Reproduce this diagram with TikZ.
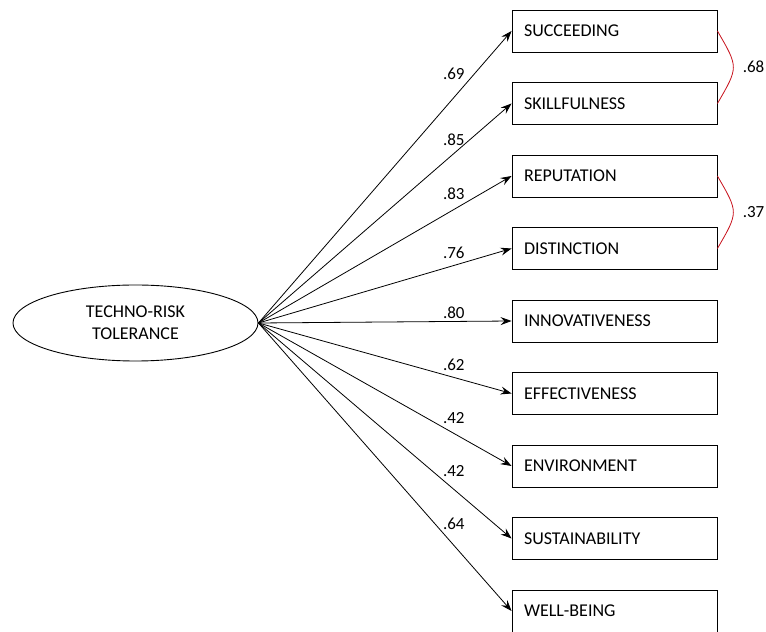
\documentclass[tikz,border=0pt]{standalone}
\usepackage{fontspec}
\setmainfont{Carlito}
\usetikzlibrary{arrows.meta,shapes.geometric}
\begin{document}
\begin{tikzpicture}[x=1pt,y=1pt,
  item/.style={draw,line width=0.9pt,minimum width=205pt,minimum height=42pt,text width=181pt,inner xsep=12pt,inner ysep=0pt,align=left,font=\fontsize{18}{22}\selectfont},
  factor/.style={draw,ellipse,line width=0.9pt,minimum width=245pt,minimum height=76pt,inner sep=0pt,align=center,font=\fontsize{18}{22}\selectfont},
  load/.style={-{Stealth[length=11pt,width=8pt,inset=4pt]},line width=0.8pt},
  cov/.style={color={rgb,255:red,200;green,20;blue,30},line width=0.8pt},
  lbl/.style={text=black,font=\fontsize{17}{20}\selectfont,inner sep=0pt}]
\useasboundingbox (0,0) rectangle (766,632);
\node[factor] (trt) at (135.5,309) {TECHNO-RISK\\TOLERANCE};
\node[item] (suc) at (614.5,601) {SUCCEEDING};
\node[item] (ski) at (614.5,528.5) {SKILLFULNESS};
\node[item] (rep) at (614.5,456) {REPUTATION};
\node[item] (dis) at (614.5,383.5) {DISTINCTION};
\node[item] (inn) at (614.5,311) {INNOVATIVENESS};
\node[item] (eff) at (614.5,238.5) {EFFECTIVENESS};
\node[item] (env) at (614.5,166) {ENVIRONMENT};
\node[item] (sus) at (614.5,93.5) {SUSTAINABILITY};
\node[item] (wel) at (614.5,21) {WELL-BEING};
\draw[load] (trt.east) -- (suc.west) node[lbl,pos=.772,yshift=24pt] {.69};
\draw[load] (trt.east) -- (ski.west) node[lbl,pos=.772,yshift=14pt] {.85};
\draw[load] (trt.east) -- (rep.west) node[lbl,pos=.772,yshift=16pt] {.83};
\draw[load] (trt.east) -- (dis.west) node[lbl,pos=.772,yshift=13pt] {.76};
\draw[load] (trt.east) -- (inn.west) node[lbl,pos=.772,yshift=9pt] {.80};
\draw[load] (trt.east) -- (eff.west) node[lbl,pos=.772,yshift=13pt] {.62};
\draw[load] (trt.east) -- (env.west) node[lbl,pos=.772,yshift=15pt] {.42};
\draw[load] (trt.east) -- (sus.west) node[lbl,pos=.772,yshift=18pt] {.42};
\draw[load] (trt.east) -- (wel.west) node[lbl,pos=.772,yshift=22pt] {.64};
\draw[cov] (suc.east) to[out=-60,in=60,looseness=1.5] node[lbl,pos=.5,anchor=west,xshift=9pt] {.68} (ski.east);
\draw[cov] (rep.east) to[out=-60,in=60,looseness=1.5] node[lbl,pos=.5,anchor=west,xshift=9pt] {.37} (dis.east);
\end{tikzpicture}
\end{document}
